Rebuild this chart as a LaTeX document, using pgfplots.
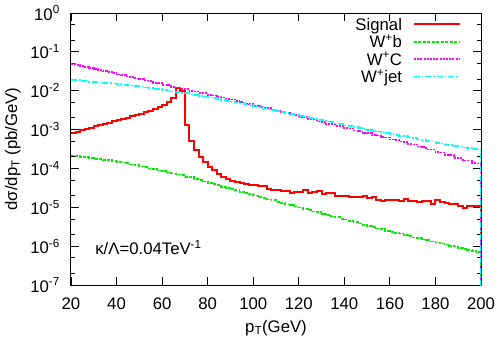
\documentclass[border=0pt]{standalone}
\usepackage{pgfplots}
\pgfplotsset{compat=1.18}
\usepackage{fontspec}
\setmainfont{Liberation Sans}
\definecolor{sigred}{rgb}{1,0,0}
\definecolor{wbgreen}{rgb}{0,0.92,0}
\definecolor{wcmag}{rgb}{1,0,1}
\definecolor{wjcyan}{rgb}{0,1,1}
\newcommand\fs{\fontsize{16.8}{19}\selectfont}
\begin{document}
\begin{tikzpicture}
\path[use as bounding box] (-71bp,-54bp) rectangle (427bp,285bp);
\begin{axis}[
  at={(0,0)}, anchor=south west,
  scale only axis, width=410bp, height=272bp,
  xmin=20, xmax=200, ymin=1e-7, ymax=1, ymode=log,
  xtick={20,40,60,80,100,120,140,160,180,200},
  xticklabels={20,40,60,80,100,120,140,160,180,200},
  ytick={1e-7,1e-6,1e-5,1e-4,1e-3,1e-2,1e-1,1},
  yticklabels={10\textsuperscript{-7},10\textsuperscript{-6},10\textsuperscript{-5},10\textsuperscript{-4},10\textsuperscript{-3},10\textsuperscript{-2},10\textsuperscript{-1},10\textsuperscript{0}},
  minor ytick={2e-7,5e-7,2e-6,5e-6,2e-5,5e-5,2e-4,5e-4,2e-3,5e-3,2e-2,5e-2,0.2,0.5},
  tick align=inside,
  major tick length=8bp, minor tick length=4bp,
  every tick/.style={black, line width=0.8bp},
  axis line style={line width=1bp},
  tick label style={font=\fs},
  xticklabel style={inner sep=0pt, yshift=-13bp},
  yticklabel style={inner sep=0pt, xshift=-11bp},
  xlabel={p\textsubscript{T}(GeV)},
  ylabel={dσ/dp\textsubscript{T} (pb/GeV)},
  label style={font=\fs},
  xlabel style={at={(axis description cs:0.5,0)}, anchor=base, yshift=-47bp},
  ylabel style={at={(axis description cs:-0.1317,0.5)}, anchor=base},
  no markers,
  legend cell align=right,
  legend plot pos=right,
  legend style={draw=none, fill=none, inner sep=0pt, outer sep=0pt,
    at={(axis description cs:0.9512,0.9798)}, anchor=north east,
    column sep=11bp, row sep=1.3bp, font=\fs,
    nodes={inner sep=0pt, text height=12bp, text depth=4bp}},
  legend image code/.code={\draw[#1] plot coordinates {(0bp,2bp) (46bp,2bp)};},
]
\addplot[const plot, sigred, line width=2bp] coordinates {
(20,8.32e-4)(22,8.91e-4)(24,9.77e-4)(26,1.05e-3)(28,1.12e-3)(30,1.20e-3)(32,1.32e-3)(34,1.41e-3)(36,1.51e-3)(38,1.62e-3)
(40,1.78e-3)(42,1.91e-3)(44,2.04e-3)(46,2.19e-3)(48,2.40e-3)(50,2.57e-3)(52,2.82e-3)(54,3.09e-3)(56,3.39e-3)(58,3.80e-3)
(60,4.27e-3)(62,5.01e-3)(64,6.46e-3)(66,1.17e-2)(68,9.77e-3)(70,1.32e-3)(72,5.13e-4)(74,2.95e-4)(76,1.95e-4)(78,1.48e-4)
(80,1.12e-4)(82,9.12e-5)(84,7.24e-5)(86,6.17e-5)(88,5.25e-5)(90,4.68e-5)(92,4.37e-5)(94,4.17e-5)(96,3.98e-5)(98,3.72e-5)
(100,3.80e-5)(102,3.47e-5)(104,3.55e-5)(106,3.02e-5)(108,2.82e-5)(110,2.82e-5)(112,2.69e-5)(114,2.63e-5)(116,2.40e-5)(118,2.51e-5)
(120,2.45e-5)(122,2.75e-5)(124,2.40e-5)(126,2.45e-5)(128,2.69e-5)(130,2.19e-5)(132,2.34e-5)(134,2.29e-5)(136,2.00e-5)(138,1.91e-5)
(140,1.95e-5)(142,1.82e-5)(144,1.82e-5)(146,1.86e-5)(148,1.91e-5)(150,1.74e-5)(152,1.86e-5)(154,1.58e-5)(156,1.45e-5)(158,1.51e-5)
(160,1.55e-5)(162,1.58e-5)(164,1.48e-5)(166,1.62e-5)(168,1.45e-5)(170,1.48e-5)(172,1.38e-5)(174,1.48e-5)(176,1.45e-5)(178,1.20e-5)
(180,1.51e-5)(182,1.38e-5)(184,1.32e-5)(186,1.20e-5)(188,1.23e-5)(190,1.05e-5)(192,9.55e-6)(194,1.05e-5)(196,1.05e-5)(198,1.10e-5)
(200,1e-9)};
\addlegendentry{Signal}
\addplot[const plot, wbgreen, line width=1.7bp, dash pattern=on 3bp off 1.5bp] coordinates {
(20,2.14e-4)(22,2.06e-4)(24,2.01e-4)(26,1.93e-4)(28,1.87e-4)(30,1.76e-4)(32,1.75e-4)(34,1.64e-4)(36,1.63e-4)(38,1.53e-4)
(40,1.49e-4)(42,1.43e-4)(44,1.36e-4)(46,1.27e-4)(48,1.21e-4)(50,1.13e-4)(52,1.08e-4)(54,9.90e-5)(56,9.60e-5)(58,8.80e-5)
(60,8.55e-5)(62,7.85e-5)(64,7.45e-5)(66,7.00e-5)(68,6.65e-5)(70,6.10e-5)(72,5.92e-5)(74,5.30e-5)(76,5.05e-5)(78,4.62e-5)
(80,4.30e-5)(82,3.93e-5)(84,3.75e-5)(86,3.35e-5)(88,3.18e-5)(90,2.92e-5)(92,2.77e-5)(94,2.48e-5)(96,2.36e-5)(98,2.17e-5)
(100,2.01e-5)(102,1.84e-5)(104,1.75e-5)(106,1.60e-5)(108,1.52e-5)(110,1.37e-5)(112,1.30e-5)(114,1.19e-5)(116,1.13e-5)(118,1.04e-5)
(120,9.85e-6)(122,9.05e-6)(124,8.55e-6)(126,7.85e-6)(128,7.45e-6)(130,6.85e-6)(132,6.35e-6)(134,5.82e-6)(136,5.53e-6)(138,5.08e-6)
(140,4.82e-6)(142,4.42e-6)(144,4.20e-6)(146,3.85e-6)(148,3.57e-6)(150,3.28e-6)(152,3.11e-6)(154,2.85e-6)(156,2.71e-6)(158,2.48e-6)
(160,2.36e-6)(162,2.17e-6)(164,2.10e-6)(166,1.93e-6)(168,1.83e-6)(170,1.68e-6)(172,1.59e-6)(174,1.47e-6)(176,1.42e-6)(178,1.31e-6)
(180,1.24e-6)(182,1.16e-6)(184,1.11e-6)(186,1.01e-6)(188,9.85e-7)(190,9.05e-7)(192,8.55e-7)(194,8.05e-7)(196,7.65e-7)(198,7.00e-7)
(200,1e-9)};
\addlegendentry{W\textsuperscript{+}b}
\addplot[const plot, wcmag, line width=1.7bp, dash pattern=on 2bp off 1.2bp] coordinates {
(20,4.86e-2)(22,4.62e-2)(24,4.30e-2)(26,4.10e-2)(28,3.78e-2)(30,3.66e-2)(32,3.37e-2)(34,3.19e-2)(36,3.00e-2)(38,2.84e-2)
(40,2.61e-2)(42,2.53e-2)(44,2.32e-2)(46,2.26e-2)(48,2.07e-2)(50,1.97e-2)(52,1.84e-2)(54,1.76e-2)(56,1.60e-2)(58,1.57e-2)
(60,1.43e-2)(62,1.40e-2)(64,1.27e-2)(66,1.22e-2)(68,1.13e-2)(70,1.09e-2)(72,9.85e-3)(74,9.60e-3)(76,8.80e-3)(78,8.60e-3)
(80,7.85e-3)(82,7.50e-3)(84,6.95e-3)(86,6.70e-3)(88,6.20e-3)(90,5.95e-3)(92,5.40e-3)(94,5.20e-3)(96,4.70e-3)(98,4.55e-3)
(100,4.20e-3)(102,4.05e-3)(104,3.65e-3)(106,3.55e-3)(108,3.15e-3)(110,3.08e-3)(112,2.76e-3)(114,2.68e-3)(116,2.45e-3)(118,2.39e-3)
(120,2.14e-3)(122,2.08e-3)(124,1.87e-3)(126,1.82e-3)(128,1.62e-3)(130,1.58e-3)(132,1.42e-3)(134,1.41e-3)(136,1.25e-3)(138,1.23e-3)
(140,1.09e-3)(142,1.07e-3)(144,9.55e-4)(146,9.30e-4)(148,8.30e-4)(150,8.10e-4)(152,7.20e-4)(154,7.05e-4)(156,6.50e-4)(158,6.30e-4)
(160,5.60e-4)(162,5.50e-4)(164,4.90e-4)(166,4.80e-4)(168,4.25e-4)(170,4.15e-4)(172,3.65e-4)(174,3.55e-4)(176,3.05e-4)(178,3.05e-4)
(180,2.62e-4)(182,2.58e-4)(184,2.22e-4)(186,2.20e-4)(188,1.88e-4)(190,1.86e-4)(192,1.60e-4)(194,1.60e-4)(196,1.36e-4)(198,1.35e-4)
(200,1e-9)};
\addlegendentry{W\textsuperscript{+}C}
\addplot[const plot, wjcyan, line width=1.7bp, dash pattern=on 6bp off 2bp on 1.5bp off 2bp] coordinates {
(20,1.88e-2)(22,1.86e-2)(24,1.79e-2)(26,1.77e-2)(28,1.71e-2)(30,1.69e-2)(32,1.63e-2)(34,1.61e-2)(36,1.56e-2)(38,1.54e-2)
(40,1.48e-2)(42,1.45e-2)(44,1.39e-2)(46,1.37e-2)(48,1.30e-2)(50,1.28e-2)(52,1.21e-2)(54,1.19e-2)(56,1.13e-2)(58,1.10e-2)
(60,1.04e-2)(62,1.02e-2)(64,9.60e-3)(66,9.35e-3)(68,8.80e-3)(70,8.60e-3)(72,8.05e-3)(74,7.85e-3)(76,7.35e-3)(78,7.15e-3)
(80,6.70e-3)(82,6.55e-3)(84,6.10e-3)(86,5.82e-3)(88,5.45e-3)(90,5.30e-3)(92,4.95e-3)(94,4.75e-3)(96,4.42e-3)(98,4.22e-3)
(100,3.94e-3)(102,3.85e-3)(104,3.51e-3)(106,3.43e-3)(108,3.13e-3)(110,3.06e-3)(112,2.85e-3)(114,2.72e-3)(116,2.54e-3)(118,2.44e-3)
(120,2.27e-3)(122,2.17e-3)(124,2.02e-3)(126,1.94e-3)(128,1.80e-3)(130,1.73e-3)(132,1.60e-3)(134,1.57e-3)(136,1.43e-3)(138,1.40e-3)
(140,1.28e-3)(142,1.25e-3)(144,1.16e-3)(146,1.11e-3)(148,1.04e-3)(150,9.85e-4)(152,9.25e-4)(154,9.00e-4)(156,8.45e-4)(158,8.20e-4)
(160,7.55e-4)(162,7.30e-4)(164,6.85e-4)(166,6.70e-4)(168,6.25e-4)(170,5.95e-4)(172,5.58e-4)(174,5.42e-4)(176,5.10e-4)(178,4.95e-4)
(180,4.55e-4)(182,4.42e-4)(184,4.15e-4)(186,4.02e-4)(188,3.78e-4)(190,3.66e-4)(192,3.45e-4)(194,3.35e-4)(196,3.14e-4)(198,3.05e-4)
(200,1e-9)};
\addlegendentry{W\textsuperscript{+}jet}
\node[anchor=base west, font=\fs, inner sep=0pt] at (axis cs:30.6,6.1e-7) {κ/Λ=0.04TeV\textsuperscript{-1}};
\end{axis}
\end{tikzpicture}
\end{document}
